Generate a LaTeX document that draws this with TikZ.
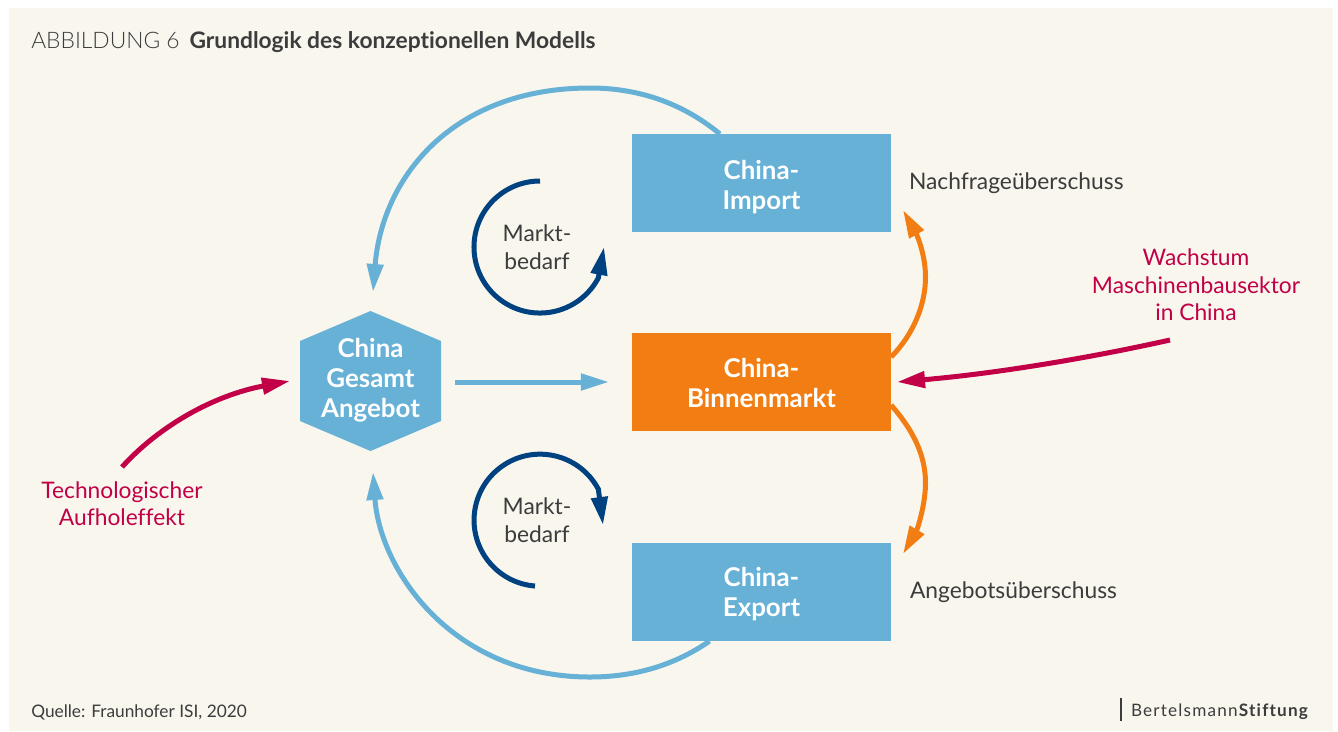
\documentclass[tikz,border=0pt]{standalone}
\usepackage{fontspec}
\setmainfont{Lato}[Ligatures=NoCommon]
\newfontfamily\lightfont[UprightFont={* Light}]{Lato}
\definecolor{PaperCream}{RGB}{249, 246, 238}
\definecolor{SkyBlue}{RGB}{103, 177, 214}
\definecolor{DeepOrange}{RGB}{242, 126, 19}
\definecolor{NavyBlue}{RGB}{0, 66, 128}
\definecolor{Crimson}{RGB}{193, 0, 71}
\definecolor{DarkText}{RGB}{60, 60, 60}
\usetikzlibrary{arrows.meta, positioning, calc}

\begin{document}
\begin{tikzpicture}[
        x=0.025cm, y=-0.025cm,
        >={Triangle[length=0.7cm, width=0.4cm]},
        box_node/.style={minimum width=6.475cm, minimum height=2.45cm, inner sep=0pt, outer sep=0pt, text depth=0pt, align=center, text=white, font=\fontsize{18.4}{21.3}\selectfont\bfseries},
        label_node/.style={inner sep=0pt, outer sep=0pt, align=center, text=DarkText, font=\fontsize{16.2}{19.5}\selectfont},
        driver_node/.style={label_node, text=Crimson},
        arrow_line/.style={->, line width=0.125cm}
    ]
        \useasboundingbox (0,0) rectangle (1338,731);
        \fill[PaperCream] (9,8) rectangle (1333,731);

        \node[box_node, fill=DeepOrange, text height=36.2pt] (binnen) at (761.5,382) {China-\\Binnenmarkt};
        \node[box_node, fill=SkyBlue, text height=37.6pt, above=2.525cm of binnen] (import) {China-\\Import};
        \node[box_node, fill=SkyBlue, below=2.8cm of binnen] (export) {China-\\Export};

        % Hexagon
        \fill[SkyBlue] (370.5,311) -- (441,341) -- (441,421) -- (370.5,451) -- (300,421) -- (300,341) -- cycle;
        \node[box_node, minimum width=3.525cm, minimum height=3.5cm, text depth=6.2pt] (gesamt) at (370.5,382) {China\\Gesamt\\Angebot};

        \node[label_node] (bedarf_top) at (537,247) {Markt-\\bedarf};
        \node[label_node] (bedarf_bottom) at (537,520) {Markt-\\bedarf};
        \node[label_node, right=0.45cm of import] (nachfrage) {Nachfrageüberschuss};
        \node[label_node, right=0.475cm of export] (angebot) {Angebotsüberschuss};
        \node[driver_node] (wachstum) at (1196,285) {Wachstum\\Maschinenbausektor\\in China};
        \node[driver_node] (aufhol) at (122,503.5) {Technologischer\\Aufholeffekt};

        \node[anchor=west, inner sep=0pt, text=DarkText, font=\fontsize{16.2}{18}\selectfont] (title) at (31,42) {{\lightfont ABBILDUNG 6}\hspace{7pt}\textbf{Grundlogik des konzeptionellen Modells}};
        \node[anchor=west, inner sep=0pt, text=DarkText, font=\fontsize{12.3}{15}\selectfont] (source) at (31,712) {Quelle: Fraunhofer ISI, 2020};
        \node[anchor=east, inner sep=0pt, text=DarkText, font=\fontsize{12.2}{15}\selectfont\addfontfeature{LetterSpace=7}] (logo) at (1309.5,712) {Bertelsmann\textbf{Stiftung}};
        \draw[DarkText, line width=0.04cm] (1121,698) -- (1121,721);

        \coordinate (top_tip) at (373,292);
        \coordinate (bottom_tip) at (373,472);
        \coordinate (top_lap) at (540,181);
        \coordinate (bottom_lap) at (535,586);
        \coordinate (aufhol_start) at (122,467);
        \coordinate (wachstum_start) at (1170,340);

        % Edges
        \draw[arrow_line, SkyBlue] ([xshift=-1.04cm]import.north) .. controls (680,101) and (635,88) .. (590,88) .. controls (452,88) and (382,178) .. (top_tip);
        \draw[arrow_line, SkyBlue] ([xshift=-1.3cm]export.south) .. controls (675,665) and (635,677) .. (590,677) .. controls (452,677) and (380,570) .. (bottom_tip);
        \draw[arrow_line, SkyBlue, shorten <=0.35cm, shorten >=0.575cm] (gesamt.east) -- (binnen.west);
        \draw[arrow_line, DeepOrange] ([yshift=0.625cm]binnen.east) .. controls (913,335) and (925.5,305) .. (925.5,277) .. controls (925.5,255) and (917,235) .. (903,210);
        \draw[arrow_line, DeepOrange] ([yshift=-0.575cm]binnen.east) .. controls (913,430) and (925.5,455) .. (925.5,483) .. controls (925.5,505) and (917,530) .. (903,554);
        \draw[arrow_line, Crimson] (wachstum_start) .. controls (1080,360) and (990,374) .. (897,382);
        \draw[arrow_line, Crimson] (aufhol_start) .. controls (160,425) and (215,395) .. (290,381);
        \draw[arrow_line, NavyBlue] (top_lap) arc[start angle=90, end angle=332, radius=1.65cm] -- (604,247);
        \draw[arrow_line, NavyBlue] (bottom_lap) arc[start angle=265.6, end angle=28, radius=1.65cm] -- (603,525);
    \end{tikzpicture}
\end{document}
